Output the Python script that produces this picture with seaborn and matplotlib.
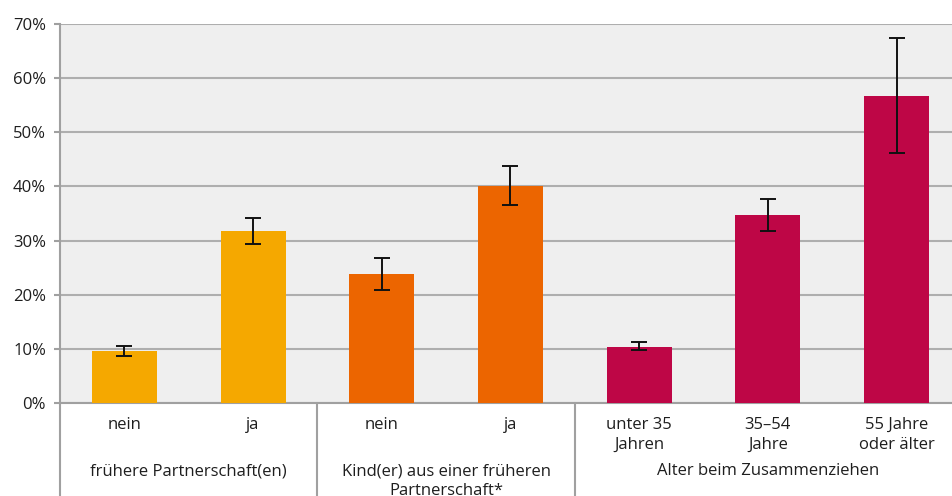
import matplotlib
matplotlib.use("Agg")
import matplotlib.pyplot as plt
import matplotlib.transforms as mtransforms
import seaborn as sns
import pandas as pd
import numpy as np

# Anteil in Prozent, mit Konfidenzintervallen
categories = ["nein", "ja", "nein", "ja", "unter 35\nJahren", "35–54\nJahre", "55 Jahre\noder älter"]
values = [9.6, 31.8, 23.8, 40.1, 10.4, 34.7, 56.7]
ci_low = [8.7, 29.4, 20.9, 36.6, 9.8, 31.8, 46.2]
ci_high = [10.5, 34.2, 26.8, 43.8, 11.3, 37.7, 67.5]
groups = ["frühere Partnerschaft(en)", "Kind(er) aus einer früheren\nPartnerschaft*", "Alter beim Zusammenziehen"]
group_sizes = [2, 2, 3]
group_colors = ["#F5A800", "#EC6500", "#BE0646"]
yticks = [0, 10, 20, 30, 40, 50, 60, 70]

sns.set_theme(style="white")
plt.rcParams["font.family"] = ["Open Sans", "DejaVu Sans"]
text_color = "#1e1e1e"
fs = 12

bar_colors = [c for c, n in zip(group_colors, group_sizes) for _ in range(n)]
df = pd.DataFrame({"pos": [str(i) for i in range(len(values))], "wert": values})

fig = plt.figure(figsize=(9.52, 4.96), dpi=100)
W, H = 952, 496
ax = fig.add_axes([60 / W, (H - 403) / H, (961 - 60) / W, (403 - 24) / H])
ax.set_facecolor("#EFEFEF")

sns.barplot(data=df, x="pos", y="wert", hue="pos", palette=bar_colors,
            legend=False, width=0.505, ax=ax, saturation=1, zorder=3,
            linewidth=0, edgecolor="none")

x = np.arange(len(values))
v = np.array(values)
err = np.vstack([v - np.array(ci_low), np.array(ci_high) - v])
ax.errorbar(x, v, yerr=err, fmt="none", ecolor="#111111", elinewidth=1.4,
            capsize=5.5, capthick=1.4, zorder=4)

ax.set_xlim(-0.5, len(values) - 0.5)
ax.set_ylim(0, 70)
ax.set_yticks(yticks)
ax.set_yticklabels([f"{t}%" for t in yticks], fontsize=fs, color=text_color)
ax.yaxis.grid(True, color="#AEAEAE", linewidth=1.5, zorder=0)
ax.set_axisbelow(True)
ax.tick_params(axis="y", length=4, color="#A0A0A0", width=1.5, pad=6, left=True)
ax.tick_params(axis="x", length=0, labelbottom=False)
ax.set_xlabel("")
ax.set_ylabel("")
for s in ["top", "right"]:
    ax.spines[s].set_visible(False)
ax.spines["left"].set_color("#A0A0A0")
ax.spines["left"].set_linewidth(1.5)
ax.spines["bottom"].set_color("#A0A0A0")
ax.spines["bottom"].set_linewidth(1.5)

# Kategorienbeschriftungen unterhalb der Achse
trans = mtransforms.blended_transform_factory(ax.transData, fig.transFigure)
for i, lab in enumerate(categories):
    ax.text(i, (H - 417) / H, lab, transform=trans, ha="center", va="top",
            fontsize=fs, color=text_color, linespacing=1.35)

# Gruppenbeschriftungen und Trennlinien
start = 0
seps = [-0.5]
for g, n in zip(groups, group_sizes):
    center = start + (n - 1) / 2
    ax.text(center, (H - 463) / H, g, transform=trans, ha="center", va="top",
            fontsize=fs, color=text_color, linespacing=1.3)
    start += n
    seps.append(start - 0.5)
for sx in seps:
    ax.plot([sx, sx], [(H - 403) / H, 0], transform=trans, color="#A0A0A0",
            linewidth=1.5, clip_on=False, zorder=5)

fig.savefig("out.png", dpi=100)
